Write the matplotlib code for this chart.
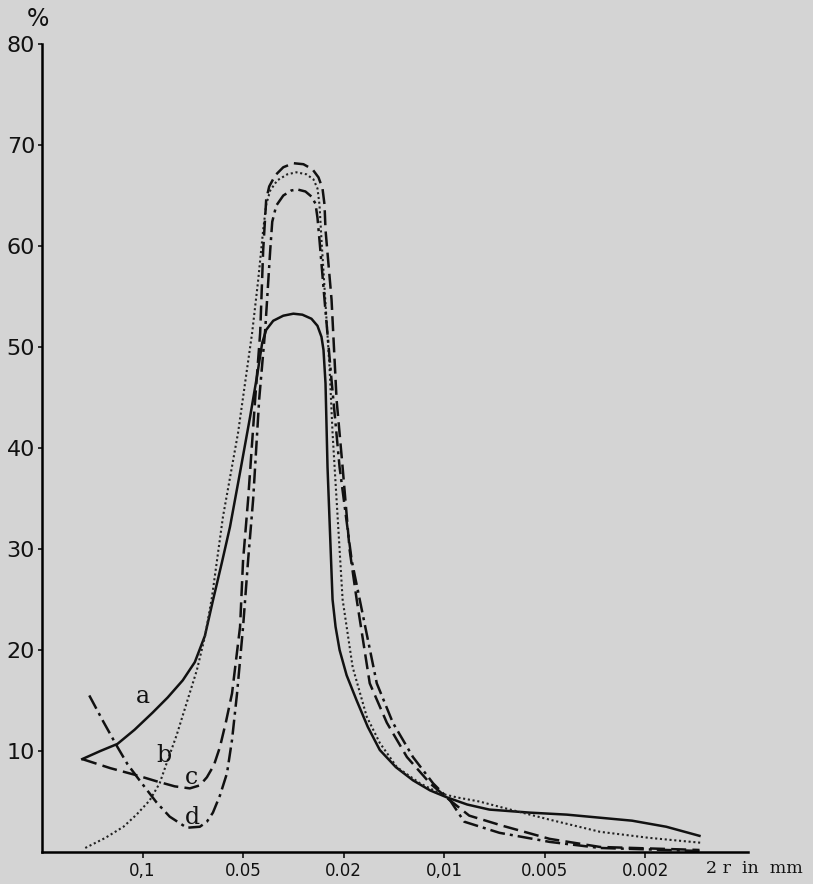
import matplotlib
matplotlib.use("Agg")
import matplotlib.pyplot as plt

# grain size classes on x (equally spaced positions), percentages on y
tick_pos = [1, 2, 3, 4, 5, 6]
tick_labels = ["0,1", "0.05", "0.02", "0,01", "0.005", "0.002"]
y_ticks = [10, 20, 30, 40, 50, 60, 70, 80]

# curve a (solid)
a_x = [0.40, 0.58, 0.75, 0.92, 1.10, 1.25, 1.40, 1.52, 1.62, 1.70, 1.79, 1.87, 1.97, 2.07, 2.14,
       2.19, 2.23, 2.30, 2.40, 2.50, 2.59, 2.68, 2.74, 2.78, 2.80, 2.82, 2.84, 2.89, 2.92, 2.96,
       3.03, 3.13, 3.24, 3.36, 3.52, 3.69, 3.86, 4.03, 4.23, 4.45, 4.85, 5.22, 5.87, 6.21, 6.54]
a_y = [9.2, 10.0, 10.7, 12.1, 13.8, 15.3, 17.0, 18.8, 21.4, 24.9, 28.7, 32.2, 37.6, 43.1, 47.2,
       50.4, 51.7, 52.6, 53.1, 53.3, 53.2, 52.8, 52.1, 51.0, 49.7, 46.4, 38.1, 25.0, 22.3, 20.0,
       17.5, 15.0, 12.4, 10.1, 8.4, 7.1, 6.1, 5.4, 4.7, 4.2, 3.9, 3.7, 3.1, 2.5, 1.6]

# curve b (dotted)
b_x = [0.43, 0.63, 0.81, 0.94, 1.07, 1.17, 1.24, 1.34, 1.44, 1.54, 1.62, 1.69, 1.80, 1.95, 2.09,
       2.15, 2.20, 2.23, 2.27, 2.34, 2.44, 2.53, 2.63, 2.70, 2.74, 2.76, 2.78, 2.86, 2.89, 2.93,
       2.99, 3.09, 3.23, 3.36, 3.53, 3.76, 3.96, 4.13, 4.35, 4.58, 5.05, 5.55, 6.04, 6.57]
b_y = [0.4, 1.4, 2.5, 3.7, 5.1, 6.8, 8.8, 11.6, 14.8, 18.0, 21.3, 25.2, 33.2, 41.5, 51.4,
       56.6, 61.6, 64.1, 65.5, 66.5, 67.1, 67.3, 67.1, 66.6, 65.7, 64.1, 60.6, 48.0, 41.5, 34.9,
       25.0, 18.3, 13.4, 10.8, 8.4, 6.8, 5.8, 5.4, 5.0, 4.4, 3.2, 2.0, 1.4, 0.9]

# curve c (dashed)
c_x = [0.40, 0.68, 0.94, 1.14, 1.32, 1.47, 1.57, 1.64, 1.71, 1.77, 1.83, 1.89, 1.93, 1.97, 2.00,
       2.05, 2.12, 2.17, 2.20, 2.23, 2.26, 2.32, 2.40, 2.50, 2.60, 2.69, 2.75, 2.79, 2.81, 2.82,
       2.88, 2.93, 2.99, 3.06, 3.13, 3.26, 3.43, 3.63, 3.86, 4.06, 4.25, 4.58, 5.05, 5.55, 6.21, 6.54]
c_y = [9.2, 8.3, 7.6, 7.0, 6.5, 6.3, 6.6, 7.4, 8.6, 10.4, 12.9, 15.7, 19.0, 22.3, 28.9,
       34.9, 44.8, 51.4, 59.6, 64.6, 65.9, 67.0, 67.8, 68.2, 68.1, 67.6, 66.8, 65.7, 64.1, 61.6,
       54.7, 44.8, 38.1, 29.9, 25.0, 16.7, 12.8, 9.4, 6.8, 5.1, 3.6, 2.6, 1.3, 0.5, 0.3, 0.2]

# curve d (dash-dot)
d_x = [0.47, 0.61, 0.75, 0.85, 0.97, 1.07, 1.14, 1.27, 1.44, 1.57, 1.64, 1.70, 1.77, 1.84, 1.89,
       1.94, 1.97, 2.00, 2.05, 2.10, 2.16, 2.22, 2.27, 2.29, 2.33, 2.40, 2.48, 2.54, 2.62, 2.68,
       2.72, 2.74, 2.76, 2.81, 2.88, 2.96, 3.08, 3.16, 3.33, 3.49, 3.69, 3.89, 4.06, 4.20, 4.55,
       5.05, 5.55, 6.54]
d_y = [15.5, 12.9, 10.4, 8.7, 7.1, 5.8, 4.9, 3.5, 2.4, 2.5, 3.0, 3.9, 5.6, 7.8, 11.1,
       15.7, 19.0, 22.3, 28.9, 34.9, 44.8, 51.7, 59.6, 62.4, 64.0, 65.0, 65.5, 65.6, 65.4, 64.9,
       64.2, 62.8, 60.6, 54.7, 46.7, 38.1, 28.9, 25.0, 16.7, 12.8, 9.4, 6.8, 5.1, 3.0, 1.9,
       1.0, 0.4, 0.1]

bg = "#d4d4d4"
fig = plt.figure(figsize=(8.13, 8.84), dpi=100, facecolor=bg)
ax = fig.add_axes([0.0517, 0.0362, 0.868, 0.914], facecolor=bg)

lw = 1.8
ax.plot(a_x, a_y, color="#111111", lw=lw, linestyle="-", solid_joinstyle="round")
ax.plot(b_x, b_y, color="#222222", lw=1.5, linestyle=(0, (1, 1.3)))
ax.plot(c_x, c_y, color="#111111", lw=lw, linestyle=(0, (6, 2.5)))
ax.plot(d_x, d_y, color="#111111", lw=lw, linestyle=(0, (6, 2, 1.2, 2)))

# curve letters
for lab, lx, ly in [("a", 1.0, 15.4), ("b", 1.21, 9.6), ("c", 1.49, 7.4), ("d", 1.50, 3.4)]:
    ax.text(lx, ly, lab, fontsize=17, family="DejaVu Serif", color="#111111",
            ha="center", va="center")

ax.set_xlim(0, 7.02)
ax.set_ylim(0, 80)
ax.spines["top"].set_visible(False)
ax.spines["right"].set_visible(False)
ax.spines["left"].set_linewidth(1.8)
ax.spines["bottom"].set_linewidth(1.8)

ax.set_xticks(tick_pos)
ax.set_xticklabels(tick_labels, fontsize=12)
ax.set_yticks(y_ticks)
ax.set_yticklabels([str(v) for v in y_ticks], fontsize=16)
ax.tick_params(axis="x", length=4, width=1.2, pad=3, colors="#111111")
ax.tick_params(axis="y", length=3, width=1.2, pad=2, colors="#111111")

fig.text(0.047, 0.978, "%", fontsize=17, ha="center", va="center", color="#111111")
fig.text(0.928, 0.018, "2 r  in  mm", fontsize=12.5, family="DejaVu Serif",
         ha="center", va="center", color="#111111")

fig.savefig("out.png", dpi=100, facecolor=bg)
